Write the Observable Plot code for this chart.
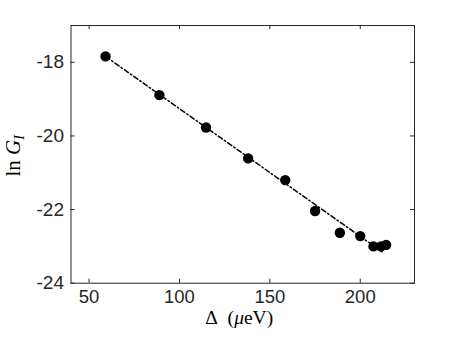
<!DOCTYPE html>
<html>
<head>
<meta charset="utf-8">
<script src="https://cdn.jsdelivr.net/npm/d3@7"></script>
<script src="https://cdn.jsdelivr.net/npm/@observablehq/plot@0.6"></script>
<style>
  html, body { margin: 0; padding: 0; background: #fff; }
  #chart { width: 457px; height: 343px; }
</style>
</head>
<body>
<div id="chart"></div>
<script>
// Measured points
const deltaX = [59.1, 88.9, 114.7, 138.0, 158.5, 175.0, 188.7, 200.0, 207.3, 211.5, 214.3];
const lnG    = [-17.84, -18.89, -19.77, -20.61, -21.20, -22.04, -22.63, -22.72, -23.00, -23.00, -22.96];
// Linear fit (dash-dot) endpoints
const fitX = [59.1, 212.4];
const fitY = [-17.84, -23.16];
// Ticks
const xTicks = [50, 100, 150, 200];
const yTicks = [-24, -22, -20, -18];

const pts = deltaX.map((x, i) => ({x, y: lnG[i]}));
const fit = fitX.map((x, i) => ({x, y: fitY[i]}));

const W = 457, H = 343;
const mL = 70.5, mR = 43, mT = 25, mB = 60.3;
const innerH = H - mT - mB, innerW = W - mL - mR;
const tk = 4;
const axisColor = "#262626";
const tickFont = "Liberation Sans, Helvetica, Arial, sans-serif";

const chart = Plot.plot({
  width: W,
  height: H,
  marginLeft: mL,
  marginRight: mR,
  marginTop: mT,
  marginBottom: mB,
  style: {fontFamily: tickFont, fontSize: "19px", color: axisColor, background: "white"},
  x: {domain: [40, 230], ticks: xTicks, tickFormat: d => String(d), label: null},
  y: {domain: [-24, -17], ticks: yTicks, tickFormat: d => String(d), label: null},
  marks: [
    Plot.axisX(xTicks, {anchor: "bottom", tickSize: 0, tickPadding: 7, tickFormat: d => String(d), fontSize: 18.5, fill: axisColor}),
    Plot.axisY(yTicks, {anchor: "left", tickSize: 0, tickPadding: 7, tickFormat: d => String(d), fontSize: 19, fill: axisColor}),
    // inward ticks (bottom/top/left/right)
    Plot.tickX(xTicks, {x: d => d, insetTop: innerH - tk, stroke: axisColor, strokeWidth: 1}),
    Plot.tickX(xTicks, {x: d => d, insetBottom: innerH - tk, stroke: axisColor, strokeWidth: 1}),
    Plot.tickY(yTicks, {y: d => d, insetRight: innerW - tk, stroke: axisColor, strokeWidth: 1}),
    Plot.tickY(yTicks, {y: d => d, insetLeft: innerW - tk, stroke: axisColor, strokeWidth: 1}),
    Plot.frame({stroke: axisColor, strokeWidth: 1}),
    Plot.line(fit, {x: "x", y: "y", stroke: "black", strokeWidth: 1.5, strokeDasharray: "5,2.5,1.5,2.5"}),
    Plot.dot(pts, {x: "x", y: "y", r: 5.2, fill: "black", stroke: "none"})
  ]
});

const svg = d3.select(chart);
// x-axis label: Δ (μeV)
const xl = svg.append("text")
  .attr("x", mL + innerW / 2 - 3)
  .attr("y", 323.5)
  .attr("text-anchor", "middle")
  .attr("font-family", "'Liberation Serif', 'DejaVu Serif', serif")
  .attr("font-size", 19.5)
  .attr("fill", "black");
xl.append("tspan").text("Δ\u00A0\u00A0(");
xl.append("tspan").attr("font-style", "italic").text("μ");
xl.append("tspan").text("eV)");

// y-axis label: ln G_I
const yl = svg.append("text")
  .attr("transform", `translate(20, ${mT + innerH / 2 + 2}) rotate(-90)`)
  .attr("text-anchor", "middle")
  .attr("font-family", "'Liberation Serif', 'DejaVu Serif', serif")
  .attr("font-size", 21)
  .attr("fill", "black");
yl.append("tspan").text("ln\u00A0");
yl.append("tspan").attr("font-style", "italic").text("G");
yl.append("tspan").attr("font-style", "italic").attr("font-size", 14).attr("dy", 4).text("I");

document.getElementById("chart").appendChild(chart);
</script>
</body>
</html>
